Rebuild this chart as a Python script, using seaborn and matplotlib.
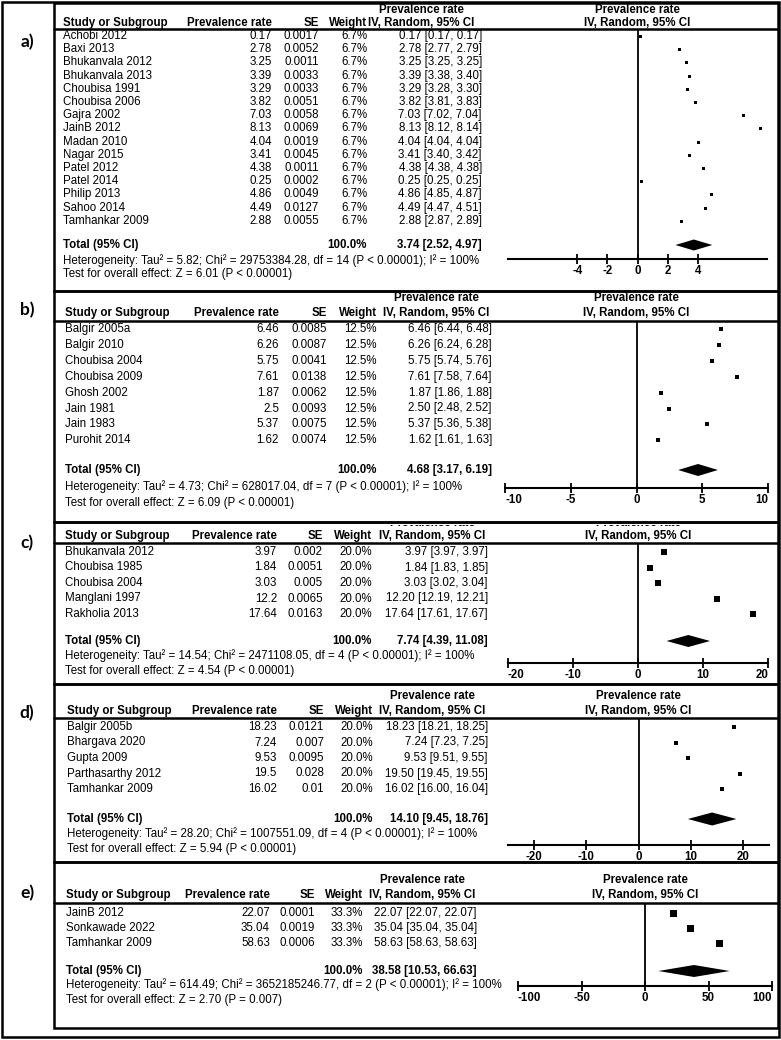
import matplotlib
matplotlib.use("Agg")
import pandas as pd
import seaborn as sns
import matplotlib.pyplot as plt
from matplotlib.patches import Rectangle
from matplotlib.lines import Line2D

W, H = 781, 1040

# a) 15 studies
a_study = ["Achobi 2012", "Baxi 2013", "Bhukanvala 2012", "Bhukanvala 2013", "Choubisa 1991",
           "Choubisa 2006", "Gajra 2002", "JainB 2012", "Madan 2010", "Nagar 2015",
           "Patel 2012", "Patel 2014", "Philip 2013", "Sahoo 2014", "Tamhankar 2009"]
a_rate = [0.17, 2.78, 3.25, 3.39, 3.29, 3.82, 7.03, 8.13, 4.04, 3.41, 4.38, 0.25, 4.86, 4.49, 2.88]
a_se = [0.0017, 0.0052, 0.0011, 0.0033, 0.0033, 0.0051, 0.0058, 0.0069, 0.0019, 0.0045,
        0.0011, 0.0002, 0.0049, 0.0127, 0.0055]
a_lo = [0.17, 2.77, 3.25, 3.38, 3.28, 3.81, 7.02, 8.12, 4.04, 3.40, 4.38, 0.25, 4.85, 4.47, 2.87]
a_hi = [0.17, 2.79, 3.25, 3.40, 3.30, 3.83, 7.04, 8.14, 4.04, 3.42, 4.38, 0.25, 4.87, 4.51, 2.89]
a_weight = "6.7%"
a_total = [3.74, 2.52, 4.97]
a_het = "Heterogeneity: Tau\u00b2 = 5.82; Chi\u00b2 = 29753384.28, df = 14 (P < 0.00001); I\u00b2 = 100%"
a_test = "Test for overall effect: Z = 6.01 (P < 0.00001)"
a_ticks = [-4, -2, 0, 2, 4]
a_xlim = [-8.6, 8.6]

# b) 8 studies
b_study = ["Balgir 2005a", "Balgir 2010", "Choubisa 2004", "Choubisa 2009", "Ghosh 2002",
           "Jain 1981", "Jain 1983", "Purohit 2014"]
b_rate = [6.46, 6.26, 5.75, 7.61, 1.87, 2.5, 5.37, 1.62]
b_se = [0.0085, 0.0087, 0.0041, 0.0138, 0.0062, 0.0093, 0.0075, 0.0074]
b_lo = [6.44, 6.24, 5.74, 7.58, 1.86, 2.48, 5.36, 1.61]
b_hi = [6.48, 6.28, 5.76, 7.64, 1.88, 2.52, 5.38, 1.63]
b_weight = "12.5%"
b_total = [4.68, 3.17, 6.19]
b_het = "Heterogeneity: Tau\u00b2 = 4.73; Chi\u00b2 = 628017.04, df = 7 (P < 0.00001); I\u00b2 = 100%"
b_test = "Test for overall effect: Z = 6.09 (P < 0.00001)"
b_ticks = [-10, -5, 0, 5, 10]
b_xlim = [-10, 10]

# c) 5 studies
c_study = ["Bhukanvala 2012", "Choubisa 1985", "Choubisa 2004", "Manglani 1997", "Rakholia 2013"]
c_rate = [3.97, 1.84, 3.03, 12.2, 17.64]
c_se = [0.002, 0.0051, 0.005, 0.0065, 0.0163]
c_lo = [3.97, 1.83, 3.02, 12.19, 17.61]
c_hi = [3.97, 1.85, 3.04, 12.21, 17.67]
c_weight = "20.0%"
c_total = [7.74, 4.39, 11.08]
c_het = "Heterogeneity: Tau\u00b2 = 14.54; Chi\u00b2 = 2471108.05, df = 4 (P < 0.00001); I\u00b2 = 100%"
c_test = "Test for overall effect: Z = 4.54 (P < 0.00001)"
c_ticks = [-20, -10, 0, 10, 20]
c_xlim = [-20, 20]

# d) 5 studies
d_study = ["Balgir 2005b", "Bhargava 2020", "Gupta 2009", "Parthasarthy 2012", "Tamhankar 2009"]
d_rate = [18.23, 7.24, 9.53, 19.5, 16.02]
d_se = [0.0121, 0.007, 0.0095, 0.028, 0.01]
d_lo = [18.21, 7.23, 9.51, 19.45, 16.00]
d_hi = [18.25, 7.25, 9.55, 19.55, 16.04]
d_weight = "20.0%"
d_total = [14.10, 9.45, 18.76]
d_het = "Heterogeneity: Tau\u00b2 = 28.20; Chi\u00b2 = 1007551.09, df = 4 (P < 0.00001); I\u00b2 = 100%"
d_test = "Test for overall effect: Z = 5.94 (P < 0.00001)"
d_ticks = [-20, -10, 0, 10, 20]
d_xlim = [-25, 25]

# e) 3 studies
e_study = ["JainB 2012", "Sonkawade 2022", "Tamhankar 2009"]
e_rate = [22.07, 35.04, 58.63]
e_se = [0.0001, 0.0019, 0.0006]
e_lo = [22.07, 35.04, 58.63]
e_hi = [22.07, 35.04, 58.63]
e_weight = "33.3%"
e_total = [38.58, 10.53, 66.63]
e_het = "Heterogeneity: Tau\u00b2 = 614.49; Chi\u00b2 = 3652185246.77, df = 2 (P < 0.00001); I\u00b2 = 100%"
e_test = "Test for overall effect: Z = 2.70 (P = 0.007)"
e_ticks = [-100, -50, 0, 50, 100]
e_xlim = [-100, 100]

# pixel layout of each panel (y from top of image)
layout = {
    "a": dict(top=3, bottom=291, head1=10, head2=23, rule=29, row0=36, step=13.2, total=245,
              het=261, test=274, axis=259, label=42, name=63, prev=272, se=319, wt=367,
              ci=482, cihead=421, px=(508, 767), sq=3, dia=5.5),
    "b": dict(top=291, bottom=522, head1=298, head2=313, rule=321, row0=329, step=15.9, total=470,
              het=487, test=503, axis=488, label=310, name=65, prev=279, se=327, wt=377,
              ci=492, cihead=436, px=(505, 768), sq=4, dia=6),
    "c": dict(top=522, bottom=684, head1=523, head2=536, rule=543, row0=552, step=15.5, total=641,
              het=656, test=671, axis=663, label=543, name=65, prev=277, se=323, wt=372,
              ci=488, cihead=432, px=(508, 768), sq=5.5, dia=6, clip=525),
    "d": dict(top=684, bottom=862, head1=696, head2=711, rule=718, row0=727, step=15.5, total=819,
              het=834, test=849, axis=845, label=713, name=67, prev=277, se=324, wt=373,
              ci=488, cihead=432, px=(508, 769), sq=5, dia=6.5),
    "e": dict(top=862, bottom=1028, head1=880, head2=895, rule=903, row0=913, step=15, total=971,
              het=985, test=1000, axis=986, label=893, name=66, prev=270, se=315, wt=363,
              ci=477, cihead=422, px=(518, 772), sq=7, dia=6),
}

sns.set_theme(style="white")
plt.rcParams["font.family"] = ["Liberation Sans", "DejaVu Sans"]
plt.rcParams["axes.unicode_minus"] = False

fig = plt.figure(figsize=(W / 100, H / 100), dpi=100)


def fx(x):
    return x / W


def fy(y):
    return 1 - y / H


def txt(x, y, s, ha="left", bold=False):
    return fig.text(fx(x), fy(y), s, ha=ha, va="center", fontsize=8.3, color="black",
                    fontweight="bold" if bold else "normal")


def hline(x0, x1, y, lw=1.8):
    fig.add_artist(Line2D([fx(x0), fx(x1)], [fy(y), fy(y)], color="black", lw=lw,
                          transform=fig.transFigure))


def box(x0, y0, x1, y1, lw=1.8):
    fig.add_artist(Rectangle((fx(x0), fy(y1)), fx(x1) - fx(x0), fy(y0) - fy(y1), fill=False,
                             edgecolor="black", lw=lw, transform=fig.transFigure))


panels = [
    ("a", a_study, a_rate, a_se, a_lo, a_hi, a_weight, a_total, a_het, a_test, a_ticks, a_xlim),
    ("b", b_study, b_rate, b_se, b_lo, b_hi, b_weight, b_total, b_het, b_test, b_ticks, b_xlim),
    ("c", c_study, c_rate, c_se, c_lo, c_hi, c_weight, c_total, c_het, c_test, c_ticks, c_xlim),
    ("d", d_study, d_rate, d_se, d_lo, d_hi, d_weight, d_total, d_het, d_test, d_ticks, d_xlim),
    ("e", e_study, e_rate, e_se, e_lo, e_hi, e_weight, e_total, e_het, e_test, e_ticks, e_xlim),
]

box(1.5, 1.5, 779, 1037)

for key, study, rate, se, lo, hi, weight, total, het, test, ticks, xlim in panels:
    L = layout[key]
    box(54, L["top"], 778, L["bottom"])
    hline(54, 778, L["rule"])
    fig.text(fx(27), fy(L["label"]), key + ")", ha="center", va="center", fontsize=12.5,
             fontweight="bold", family=["Lato", "DejaVu Sans"], color="black")

    x0, x1 = L["px"]
    pc = (x0 + x1) / 2

    # headers
    heads = [txt(L["cihead"], L["head1"], "Prevalence rate", ha="center", bold=True),
             txt(pc, L["head1"], "Prevalence rate", ha="center", bold=True)]
    if "clip" in L:
        for t in heads:
            t.set_clip_path(Rectangle((0, 0), 1, fy(L["clip"]), transform=fig.transFigure))
    txt(L["name"], L["head2"], "Study or Subgroup", bold=True)
    txt(L["prev"], L["head2"], "Prevalence rate", ha="right", bold=True)
    txt(L["se"], L["head2"], "SE", ha="right", bold=True)
    txt(L["wt"], L["head2"], "Weight", ha="right", bold=True)
    txt(L["cihead"], L["head2"], "IV, Random, 95% CI", ha="center", bold=True)
    txt(pc, L["head2"], "IV, Random, 95% CI", ha="center", bold=True)

    # study rows
    for i, name in enumerate(study):
        y = L["row0"] + i * L["step"]
        txt(L["name"], y, name)
        txt(L["prev"], y, f"{rate[i]:g}", ha="right")
        txt(L["se"], y, f"{se[i]:g}", ha="right")
        txt(L["wt"], y, weight, ha="right")
        txt(L["ci"], y, f"{rate[i]:.2f} [{lo[i]:.2f}, {hi[i]:.2f}]", ha="right")

    txt(L["name"], L["total"], "Total (95% CI)", bold=True)
    txt(L["wt"], L["total"], "100.0%", ha="right", bold=True)
    txt(L["ci"], L["total"], f"{total[0]:.2f} [{total[1]:.2f}, {total[2]:.2f}]", ha="right", bold=True)
    txt(L["name"], L["het"], het)
    txt(L["name"], L["test"], test)

    # forest plot
    ax = fig.add_axes([fx(x0), fy(L["axis"]), fx(x1) - fx(x0), fy(L["rule"]) - fy(L["axis"])])
    ax.patch.set_alpha(0)
    df = pd.DataFrame({"rate": rate, "row": list(range(len(rate)))})
    sns.scatterplot(data=df, x="rate", y="row", marker="s", s=(L["sq"] * 0.72) ** 2,
                    color="black", linewidth=0, ax=ax, legend=False)
    ty = (L["total"] - L["row0"]) / L["step"]
    dh = L["dia"] / L["step"]
    ax.fill([total[1], total[0], total[2], total[0]], [ty, ty - dh, ty, ty + dh],
            color="black", lw=0)
    ax.axvline(0, color="black", lw=1.3)
    ax.set_xlim(xlim)
    ax.set_ylim((L["axis"] - L["row0"]) / L["step"], (L["rule"] - L["row0"]) / L["step"])
    for s in ["top", "left", "right"]:
        ax.spines[s].set_visible(False)
    ax.spines["bottom"].set_color("black")
    ax.spines["bottom"].set_linewidth(1.5)
    ax.set_xticks(ticks)
    ax.set_xticklabels([str(t) for t in ticks])
    ax.set_yticks([])
    ax.set_xlabel("")
    ax.set_ylabel("")
    ax.tick_params(axis="x", bottom=True, direction="inout", length=7, width=1.3, pad=0.5,
                   labelsize=8.3, colors="black")
    for t, v in zip(ax.get_xticklabels(), ticks):
        t.set_fontweight("bold")
        # end labels sit inside the axis line
        if v == xlim[0]:
            t.set_horizontalalignment("left")
        elif v == xlim[1]:
            t.set_horizontalalignment("right")

fig.savefig("out.png", dpi=100)
